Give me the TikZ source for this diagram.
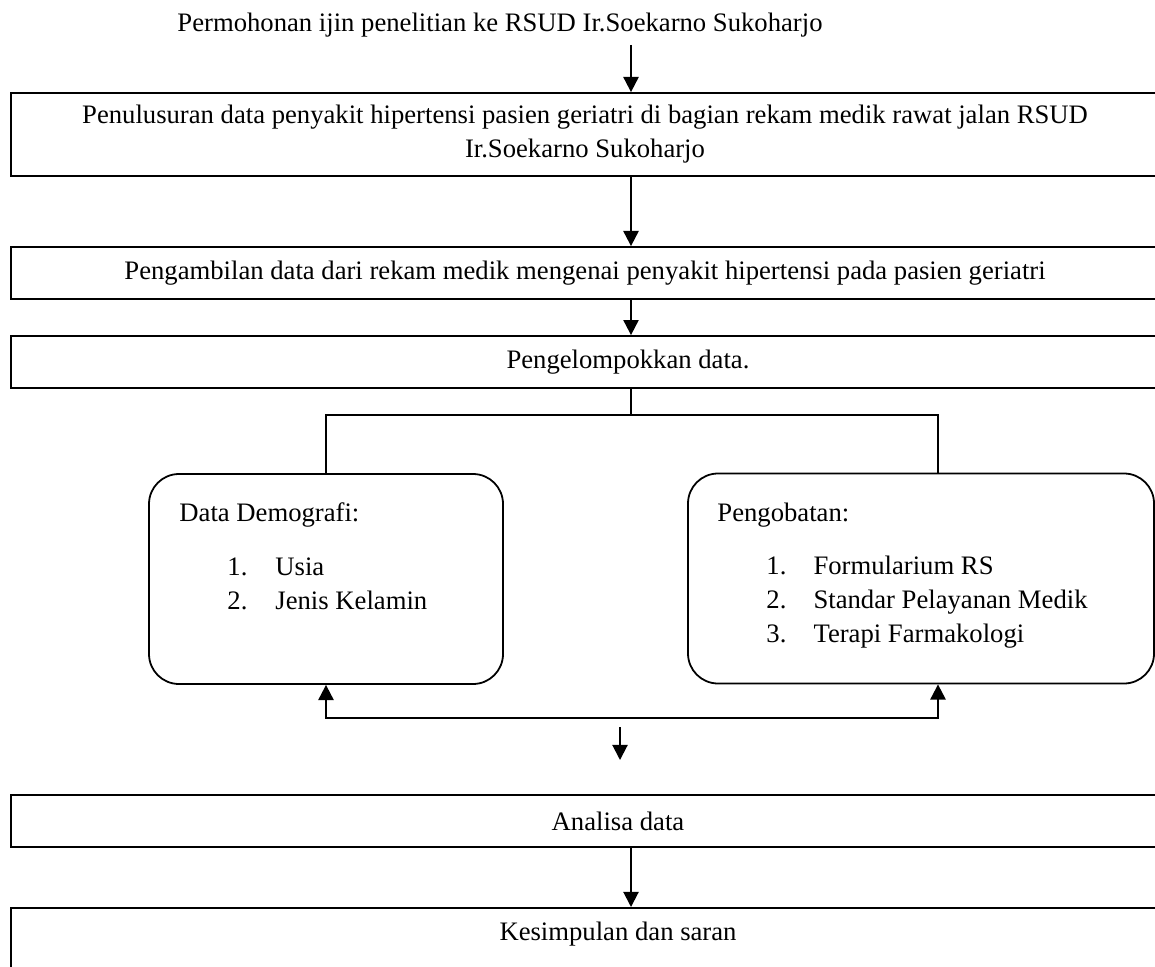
\documentclass[tikz,border=0pt]{standalone}
\usepackage{fontspec}
\setmainfont{Liberation Serif}
\usetikzlibrary{arrows.meta}

\begin{document}
\begin{tikzpicture}[x=0.45pt, y=-0.45pt,
    every node/.style={font=\fontsize{12}{15.3}\selectfont},
    stage/.style={draw, line width=0.8pt, minimum width=#1, minimum height=23.4pt, inner sep=0pt, align=center},
    panel/.style={draw, line width=0.8pt, rounded corners=13.5pt, minimum height=94.5pt, minimum width=#1},
    txt/.style={inner sep=0pt},
    flow/.style={line width=0.9pt, -{Triangle[length=6.8pt,width=6.8pt]}},
    twoway/.style={line width=0.9pt, {Triangle[length=6.8pt,width=6.8pt]}-{Triangle[length=6.8pt,width=6.8pt]}},
    link/.style={line width=0.9pt}]

    \useasboundingbox (0,0) rectangle (1155,966);

    % Request
    \node (req) at (500,25) {Permohonan ijin penelitian ke RSUD Ir.Soekarno Sukoharjo};

    % Steps
    \node[stage=516.6pt, minimum height=37.35pt] (trace) at (585,134.5)
        {Penulusuran data penyakit hipertensi pasien geriatri di bagian rekam medik rawat jalan RSUD\\ Ir.Soekarno Sukoharjo};
    \node[stage=516.6pt] (take) at (585,273)
        {Pengambilan data dari rekam medik mengenai penyakit hipertensi pada pasien geriatri};
    \node[stage=555.3pt] (group) at (628,362) {Pengelompokkan data.};

    % Groups
    \node[panel=159.3pt] (demo) at (326,579) {};
    \node[panel=209.7pt] (drug) at (921,578.5) {};

    \node[txt, anchor=base west] (demoHead) at (179,521) {Data Demografi:};
    \node[txt, anchor=north west] (demoList) at (227,551)
        {\begin{tabular}{@{}p{21.6pt}@{}l@{}}1. & Usia\\ 2. & Jenis Kelamin\end{tabular}};

    \node[txt, anchor=base west] (drugHead) at (717,521) {Pengobatan:};
    \node[txt, anchor=north west] (drugList) at (766,550)
        {\begin{tabular}{@{}p{21.2pt}@{}l@{}}1. & Formularium RS\\ 2. & Standar Pelayanan Medik\\ 3. & Terapi Farmakologi\end{tabular}};

    % Analysis and conclusion
    \node[stage=546.3pt] (analyse) at (618,821) {Analisa data};
    \node[stage=546.3pt, anchor=north, minimum height=0pt, text height=14.85pt, text depth=26pt] (conclude) at (618,907)
        {Kesimpulan dan saran};

    % Connectors
    \coordinate (axis) at (631,0);
    \coordinate (split) at (631,415);
    \coordinate (join) at (631,718);
    \coordinate (drugTie) at (938,0);
    \coordinate (gapTop) at (620,727);
    \coordinate (gapEnd) at (620,760);

    \draw[flow] (req.south -| axis) -- (trace.north -| axis);
    \draw[flow] (trace.south -| axis) -- (take.north -| axis);
    \draw[flow] (take.south -| axis) -- (group.north -| axis);

    \draw[link] (group.south -| split) -- (split);
    \draw[link] (split) -| (demo.north);
    \draw[link] (split) -| (drug.north -| drugTie);

    \draw[twoway] (demo.south) |- (join) -| (drug.south -| drugTie);
    \draw[flow] (gapTop) -- (gapEnd);

    \draw[flow] (analyse.south -| axis) -- (conclude.north -| axis);

\end{tikzpicture}
\end{document}
